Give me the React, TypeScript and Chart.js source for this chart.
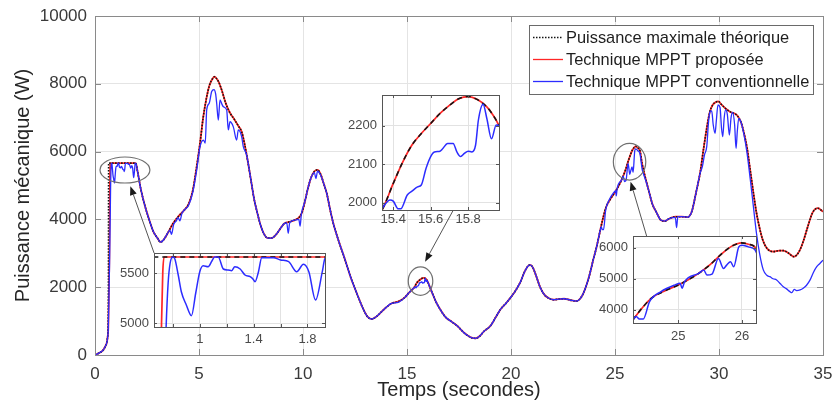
import React, { useEffect, useRef } from "react";
import { Chart, registerables } from "chart.js";

Chart.register(...registerables);

const FONT = "'Liberation Sans', Arial, Helvetica, sans-serif";

// ---------------- data (time in s, power in W) ----------------
const theoTime = [
  0, 0.2, 0.4, 0.5, 0.56, 0.6, 0.63, 0.645, 0.655, 1.0,
  1.5, 1.96, 2.05, 2.2, 2.4, 2.6, 2.8, 3.0, 3.15, 3.3,
  3.5, 3.75, 4.0, 4.3, 4.5, 4.7, 4.9, 5.05, 5.2, 5.35,
  5.5, 5.65, 5.75, 5.85, 5.95, 6.1, 6.3, 6.5, 6.7, 6.9,
  7.05, 7.2, 7.35, 7.5, 7.65, 7.8, 7.95, 8.1, 8.3, 8.5,
  8.7, 8.9, 9.1, 9.3, 9.6, 9.8, 9.95, 10.1, 10.25, 10.4,
  10.55, 10.7, 10.85, 11.0, 11.15, 11.3, 11.45, 11.7, 12.0, 12.3,
  12.6, 12.9, 13.1, 13.3, 13.5, 13.7, 13.95, 14.25, 14.6, 14.9,
  15.1, 15.25, 15.34, 15.4, 15.45, 15.5, 15.55, 15.6, 15.65, 15.7,
  15.75, 15.8, 15.85, 15.9, 15.93, 15.965, 16.05, 16.2, 16.4, 16.6,
  16.85, 17.15, 17.45, 17.7, 17.9, 18.1, 18.3, 18.5, 18.7, 19.0,
  19.3, 19.5, 19.75, 19.95, 20.2, 20.45, 20.65, 20.8, 20.92, 21.05,
  21.2, 21.4, 21.6, 21.8, 22.05, 22.3, 22.55, 22.85, 23.15, 23.35,
  23.5, 23.65, 23.8, 23.95, 24.12, 24.29, 24.45, 24.58, 24.8, 25.0,
  25.15, 25.32, 25.5, 25.63, 25.75, 25.84, 25.92, 25.99, 26.1, 26.2,
  26.3, 26.45, 26.6, 26.8, 27.0, 27.2, 27.4, 27.6, 27.9, 28.2,
  28.5, 28.7, 28.9, 29.1, 29.25, 29.4, 29.55, 29.7, 29.85, 29.97,
  30.1, 30.3, 30.55, 30.85, 31.05, 31.2, 31.35, 31.5, 31.65, 31.8,
  31.95, 32.1, 32.3, 32.6, 32.9, 33.1, 33.35, 33.6, 33.85, 34.05,
  34.25, 34.5, 34.75, 35,
];
const theoPower = [
  0, 60, 150, 260, 345, 500, 900, 2500, 5660, 5660,
  5660, 5660, 5400, 4900, 4400, 4000, 3650, 3450, 3330, 3400,
  3600, 3880, 4080, 4280, 4450, 4850, 5600, 6250, 7000, 7550,
  7950, 8150, 8210, 8150, 8050, 7800, 7400, 7130, 6950, 6750,
  6590, 6200, 5700, 5150, 4600, 4200, 3850, 3600, 3450, 3450,
  3550, 3720, 3880, 3920, 3980, 4050, 4200, 4550, 4950, 5250,
  5420, 5460, 5330, 5050, 4750, 4300, 3900, 3390, 2850, 2280,
  1800, 1350, 1130, 1060, 1120, 1230, 1380, 1520, 1580, 1700,
  1840, 1930, 1981, 2050, 2105, 2150, 2180, 2206, 2232, 2253,
  2270, 2276, 2268, 2249, 2230, 2200, 2080, 1850, 1560, 1340,
  1120, 980, 840, 680, 580, 510, 490, 560, 700, 850,
  1150, 1350, 1520, 1670, 1880, 2150, 2450, 2610, 2660, 2580,
  2350, 2000, 1780, 1680, 1630, 1650, 1660, 1620, 1590, 1680,
  1850, 2100, 2420, 2800, 3200, 3680, 4100, 4374, 4620, 4799,
  4960, 5172, 5450, 5706, 5920, 6048, 6120, 6153, 6110, 6024,
  5650, 5250, 4900, 4450, 4200, 3980, 3950, 4020, 4080, 4080,
  4070, 4250, 4800, 5400, 6050, 6650, 7150, 7380, 7460, 7480,
  7400, 7280, 7170, 7080, 6880, 6550, 6100, 5450, 4800, 4200,
  3750, 3400, 3150, 3050, 3080, 3080, 3000, 2900, 3050, 3350,
  3750, 4200, 4330, 4230,
];
// proposed technique: its own start-up, then on the theoretical maximum
const propRiseTime = [0, 0.2, 0.4, 0.5, 0.56, 0.6, 0.64, 0.67, 0.69, 0.705, 0.716, 0.725, 0.735];
const propRisePower = [0, 60, 150, 260, 345, 500, 835, 2000, 2900, 4000, 5000, 5500, 5660];

const convTime = [
  0, 0.2, 0.4, 0.5, 0.56, 0.6, 0.64, 0.67, 0.7, 0.73,
  0.75, 0.765, 0.78, 0.8, 0.815, 0.84, 0.863, 0.9, 0.938, 0.97,
  1.0, 1.025, 1.062, 1.09, 1.11, 1.137, 1.175, 1.21, 1.237, 1.26,
  1.3, 1.336, 1.374, 1.395, 1.41, 1.436, 1.46, 1.548, 1.6, 1.66,
  1.72, 1.77, 1.81, 1.86, 1.91, 1.93, 1.96, 2.05, 2.2, 2.4,
  2.6, 2.8, 3.0, 3.15, 3.3, 3.5, 3.6, 3.68, 3.78, 3.9,
  4.0, 4.08, 4.18, 4.3, 4.5, 4.7, 4.9, 5.05, 5.21, 5.3,
  5.37, 5.49, 5.61, 5.72, 5.8, 5.85, 5.93, 6.01, 6.1, 6.17,
  6.33, 6.41, 6.49, 6.65, 6.81, 6.89, 7.05, 7.13, 7.29, 7.5,
  7.65, 7.8, 7.95, 8.1, 8.3, 8.5, 8.7, 8.9, 9.1, 9.22,
  9.29, 9.36, 9.6, 9.8, 9.86, 9.92, 10.1, 10.25, 10.4, 10.55,
  10.62, 10.7, 10.85, 11.0, 11.15, 11.3, 11.45, 11.7, 12.0, 12.3,
  12.6, 12.9, 13.1, 13.3, 13.5, 13.7, 13.95, 14.25, 14.6, 14.9,
  15.1, 15.25, 15.34, 15.383, 15.4, 15.427, 15.44, 15.475, 15.5, 15.53,
  15.55, 15.575, 15.6, 15.62, 15.65, 15.665, 15.69, 15.72, 15.74, 15.76,
  15.78, 15.8, 15.82, 15.84, 15.855, 15.88, 15.9, 15.925, 15.95, 15.965,
  16.05, 16.2, 16.4, 16.6, 16.85, 17.15, 17.45, 17.7, 17.9, 18.1,
  18.3, 18.5, 18.7, 19.0, 19.3, 19.5, 19.75, 19.95, 20.2, 20.45,
  20.65, 20.8, 20.92, 21.05, 21.2, 21.4, 21.6, 21.8, 22.05, 22.3,
  22.55, 22.85, 23.15, 23.35, 23.5, 23.65, 23.8, 23.95, 24.12, 24.29,
  24.34, 24.39, 24.45, 24.55, 24.73, 24.95, 25.03, 25.06, 25.1, 25.32,
  25.4, 25.45, 25.53, 25.63, 25.71, 25.76, 25.82, 25.87, 25.95, 26.0,
  26.1, 26.2, 26.3, 26.36, 26.45, 26.6, 26.8, 27.0, 27.2, 27.4,
  27.6, 27.9, 27.96, 28.02, 28.2, 28.5, 28.7, 28.9, 29.09, 29.2,
  29.3, 29.41, 29.5, 29.57, 29.65, 29.72, 29.81, 29.87, 29.95, 30.05,
  30.12, 30.18, 30.25, 30.32, 30.4, 30.5, 30.58, 30.65, 30.75, 30.82,
  30.88, 30.95, 31.05, 31.2, 31.35, 31.5, 31.65, 31.8, 31.95, 32.13,
  32.3, 32.45, 32.6, 32.77, 32.95, 33.09, 33.25, 33.41, 33.5, 33.62,
  33.73, 33.9, 34.05, 34.2, 34.38, 34.55, 34.7, 34.85, 35,
];
const convPower = [
  0, 60, 150, 260, 345, 480, 800, 1700, 2700, 4000,
  4960, 5400, 5600, 5660, 5640, 5480, 5313, 5180, 5073, 5300,
  5513, 5573, 5563, 5620, 5660, 5660, 5540, 5530, 5523, 5563,
  5540, 5480, 5463, 5440, 5413, 5513, 5653, 5653, 5630, 5613,
  5513, 5587, 5513, 5230, 5513, 5647, 5660, 5400, 4900, 4400,
  4000, 3650, 3450, 3330, 3400, 3600, 3680, 3560, 3850, 3950,
  4050, 3960, 4180, 4280, 4420, 4800, 5500, 6145, 6340, 6250,
  7230, 7425, 7770, 7830, 7700, 7425, 6930, 7525, 7400, 7325,
  7230, 6640, 6880, 6730, 6340, 6640, 6440, 6145, 5900, 5150,
  4600, 4200, 3850, 3600, 3450, 3450, 3550, 3720, 3880, 3900,
  3590, 3900, 3980, 4000, 3800, 4150, 4550, 4950, 5250, 5380,
  5200, 5420, 5300, 5050, 4750, 4300, 3900, 3390, 2850, 2280,
  1800, 1350, 1130, 1060, 1120, 1230, 1380, 1520, 1560, 1700,
  1840, 1930, 1985, 2007, 2004, 1984, 1984, 2020, 2030, 2041,
  2046, 2089, 2120, 2132, 2134, 2141, 2154, 2154, 2132, 2120,
  2128, 2134, 2132, 2150, 2215, 2256, 2219, 2166, 2202, 2200,
  2080, 1850, 1560, 1340, 1120, 980, 840, 680, 580, 510,
  490, 560, 700, 850, 1150, 1350, 1520, 1670, 1880, 2150,
  2450, 2610, 2660, 2580, 2350, 2000, 1780, 1680, 1630, 1650,
  1660, 1620, 1590, 1680, 1850, 2100, 2420, 2800, 3200, 3680,
  3786, 3700, 3700, 4265, 4585, 4800, 4850, 4693, 4904, 5170,
  5278, 5118, 5150, 5652, 5332, 5438, 5545, 5385, 6025, 6080,
  6024, 5939, 5500, 5360, 5200, 4900, 4450, 4200, 3980, 3950,
  4020, 4060, 3760, 4080, 4080, 4070, 4250, 4800, 5360, 5560,
  5900, 6145, 6900, 7175, 7200, 6800, 6540, 6900, 7375, 7300,
  6700, 6440, 7000, 7230, 7100, 6490, 7000, 7160, 6800, 6095,
  6600, 6980, 6880, 6500, 5950, 5200, 4400, 3600, 3000, 2510,
  2350, 2310, 2250, 2215, 2100, 2015, 1950, 1870, 1840, 1935,
  1900, 1920, 1970, 2050, 2215, 2450, 2605, 2700, 2800,
];

const seriesNames = [
  "Puissance maximale théorique",
  "Technique MPPT proposée",
  "Technique MPPT conventionnelle",
];
const xTitle = "Temps (secondes)";
const yTitle = "Puissance mécanique (W)";
const xRange = [0, 35];
const yRange = [0, 10000];
const xStep = 5;
const yStep = 2000;

// zoom annotations (data units of the main axes)
const ellipseX = [1.44, 25.7, 15.65];
const ellipseY = [5457, 5700, 2180];
const ellipseRX = [1.2, 0.78, 0.59];
const ellipseRY = [383, 540, 419];
const arrowFromX = [2.84, 26.52, 17.23];
const arrowFromY = [3009, 3510, 4278];
const arrowToX = [1.7, 25.75, 15.87];
const arrowToY = [4980, 5112, 2752];

// insets: axis ranges and ticks
const insetXMin = [0.66, 15.34, 24.29];
const insetXMax = [1.93, 15.965, 26.22];
const insetYMin = [4960, 1981, 3575];
const insetYMax = [5700, 2280, 6374];
const insetXTicks = [[0.8, 1, 1.2, 1.4, 1.6, 1.8], [15.4, 15.6, 15.8], [25, 26]];
const insetXLabels = [[1, 1.4, 1.8], [15.4, 15.6, 15.8], [25, 26]];
const insetYTicks = [[5000, 5500], [2000, 2100, 2200], [4000, 5000, 6000]];

// insets: layout (page pixels of each plot box)
const insetLeft = [154, 382, 633];
const insetTop = [253, 95, 236];
const insetRight = [325, 499, 756];
const insetBottom = [327, 210, 323];
const insetLabelPad = [5, 2, 6];
const IN_L = 45, IN_T = 10, IN_R = 10, IN_B = 25;

const COL_THEO = "#141414";
const COL_PROP = "#ff2626";
const COL_CONV = "#2c2cff";

const zip = (t: number[], p: number[]) => t.map((x, i) => ({ x, y: p[i] }));
const theoData = zip(theoTime, theoPower);
const propData = [
  ...zip(propRiseTime, propRisePower),
  ...theoData.filter((d) => d.x > propRiseTime[propRiseTime.length - 1]),
];
const convData = zip(convTime, convPower);

const clearScalePadding = (s: any) => {
  s.paddingTop = 0;
  s.paddingBottom = 0;
  s.paddingLeft = 0;
  s.paddingRight = 0;
};

// ---------------- plugins ----------------
const whiteAreaPlugin = {
  id: "whiteArea",
  beforeDraw(chart: any) {
    const { ctx, chartArea: a } = chart;
    ctx.save();
    ctx.fillStyle = "#ffffff";
    ctx.fillRect(a.left, a.top, a.right - a.left, a.bottom - a.top);
    ctx.restore();
  },
};

const framePlugin = {
  id: "frame",
  afterDatasetsDraw(chart: any, _args: any, opts: any) {
    const { ctx, chartArea: a, scales } = chart;
    const len = opts.tickLength ?? 5;
    ctx.save();
    ctx.strokeStyle = opts.color || "#888";
    ctx.lineWidth = 1;
    ctx.beginPath();
    for (const t of scales.x.ticks) {
      const px = Math.round(scales.x.getPixelForValue(t.value)) + 0.5;
      if (px < a.left + 1 || px > a.right - 1) continue;
      ctx.moveTo(px, a.bottom);
      ctx.lineTo(px, a.bottom - len);
      ctx.moveTo(px, a.top);
      ctx.lineTo(px, a.top + len);
    }
    for (const t of scales.y.ticks) {
      const py = Math.round(scales.y.getPixelForValue(t.value)) + 0.5;
      if (py < a.top + 1 || py > a.bottom - 1) continue;
      ctx.moveTo(a.left, py);
      ctx.lineTo(a.left + len, py);
      ctx.moveTo(a.right, py);
      ctx.lineTo(a.right - len, py);
    }
    ctx.stroke();
    ctx.strokeRect(
      Math.round(a.left) + 0.5,
      Math.round(a.top) + 0.5,
      Math.round(a.right - a.left),
      Math.round(a.bottom - a.top)
    );
    ctx.restore();
  },
};

const annotationPlugin = {
  id: "zoomMarks",
  afterDatasetsDraw(chart: any) {
    const { ctx, scales } = chart;
    const x = scales.x, y = scales.y;
    ctx.save();
    ctx.strokeStyle = "#707070";
    ctx.lineWidth = 1.2;
    ellipseX.forEach((cx, i) => {
      const px = x.getPixelForValue(cx);
      const py = y.getPixelForValue(ellipseY[i]);
      const rx = Math.abs(x.getPixelForValue(cx + ellipseRX[i]) - px);
      const ry = Math.abs(y.getPixelForValue(ellipseY[i] + ellipseRY[i]) - py);
      ctx.beginPath();
      ctx.ellipse(px, py, rx, ry, 0, 0, Math.PI * 2);
      ctx.stroke();
    });
    arrowFromX.forEach((fx, i) => {
      const x1 = x.getPixelForValue(fx), y1 = y.getPixelForValue(arrowFromY[i]);
      const x2 = x.getPixelForValue(arrowToX[i]), y2 = y.getPixelForValue(arrowToY[i]);
      const ang = Math.atan2(y2 - y1, x2 - x1);
      const head = 9, half = 3.5;
      const bx = x2 - head * Math.cos(ang), by = y2 - head * Math.sin(ang);
      ctx.strokeStyle = "#555555";
      ctx.lineWidth = 1;
      ctx.beginPath();
      ctx.moveTo(x1, y1);
      ctx.lineTo(bx, by);
      ctx.stroke();
      ctx.fillStyle = "#1a1a1a";
      ctx.beginPath();
      ctx.moveTo(x2, y2);
      ctx.lineTo(bx + half * Math.sin(ang), by - half * Math.cos(ang));
      ctx.lineTo(bx - half * Math.sin(ang), by + half * Math.cos(ang));
      ctx.closePath();
      ctx.fill();
    });
    ctx.restore();
  },
};

const legendStyles = [
  { color: COL_THEO, dash: [1.5, 1.5], width: 1.6 },
  { color: COL_PROP, dash: [], width: 1.3 },
  { color: COL_CONV, dash: [], width: 1.3 },
];

const legendPlugin = {
  id: "boxLegend",
  afterDraw(chart: any) {
    const { ctx, chartArea: a } = chart;
    ctx.save();
    ctx.font = `16.4px ${FONT}`;
    const textW = Math.max(...seriesNames.map((n) => ctx.measureText(n).width));
    const w = 4 + 30 + 3 + textW + 4;
    const h = 69;
    const right = Math.round(a.right - 10);
    const left = Math.round(right - w);
    const top = Math.round(a.top + 9);
    ctx.fillStyle = "#ffffff";
    ctx.fillRect(left, top, right - left, h);
    ctx.strokeStyle = "#6a6a6a";
    ctx.lineWidth = 1;
    ctx.strokeRect(left + 0.5, top + 0.5, right - left, h);
    seriesNames.forEach((name, i) => {
      const st = legendStyles[i];
      const ly = top + 12.5 + i * 22;
      ctx.strokeStyle = st.color;
      ctx.lineWidth = st.width;
      ctx.setLineDash(st.dash);
      ctx.beginPath();
      ctx.moveTo(left + 4, ly);
      ctx.lineTo(left + 34, ly);
      ctx.stroke();
      ctx.setLineDash([]);
      ctx.fillStyle = "#1e1e1e";
      ctx.textBaseline = "middle";
      ctx.textAlign = "left";
      ctx.fillText(name, left + 37, top + 13.5 + i * 22);
    });
    ctx.restore();
  },
};

// ---------------- charts ----------------
function makeMain(canvas: HTMLCanvasElement) {
  return new Chart(canvas, {
    type: "line",
    data: {
      datasets: [
        { label: seriesNames[2], data: convData, borderColor: COL_CONV, borderWidth: 1.3, pointRadius: 0, order: 0, cubicInterpolationMode: "monotone" },
        { label: seriesNames[0], data: theoData, borderColor: COL_THEO, borderWidth: 1.6, borderDash: [1.5, 1.5], pointRadius: 0, order: 1, cubicInterpolationMode: "monotone" },
        { label: seriesNames[1], data: propData, borderColor: COL_PROP, borderWidth: 1.8, pointRadius: 0, order: 2, cubicInterpolationMode: "monotone" },
      ] as any,
    },
    options: {
      animation: false,
      responsive: false,
      devicePixelRatio: 1,
      events: [],
      layout: { padding: { left: 0, top: 16, right: 10, bottom: 0 } },
      plugins: {
        legend: { display: false },
        tooltip: { enabled: false },
        frame: { color: "#8a8a8a", tickLength: 6 },
      } as any,
      scales: {
        x: {
          type: "linear",
          min: xRange[0],
          max: xRange[1],
          ticks: { stepSize: xStep, font: { family: FONT, size: 17 }, color: "#3a3a3a", padding: 9, maxRotation: 0, autoSkip: false, callback: (v: any) => String(v) },
          grid: { color: "#e4e4e4", drawTicks: false },
          border: { display: false },
          title: { display: true, text: xTitle, font: { family: FONT, size: 20 }, color: "#262626", padding: { top: 0, bottom: 3 } },
          afterFit: (s: any) => { s.height = 50; clearScalePadding(s); },
        },
        y: {
          type: "linear",
          min: yRange[0],
          max: yRange[1],
          ticks: { stepSize: yStep, font: { family: FONT, size: 17 }, color: "#3a3a3a", padding: 8, callback: (v: any) => String(v) },
          grid: { color: "#e4e4e4", drawTicks: false },
          border: { display: false },
          title: { display: true, text: yTitle, font: { family: FONT, size: 20 }, color: "#262626", padding: { top: 11, bottom: 0 } },
          afterFit: (s: any) => { s.width = 95; clearScalePadding(s); },
        },
      } as any,
    },
    plugins: [whiteAreaPlugin, framePlugin, annotationPlugin, legendPlugin],
  });
}

function makeInset(canvas: HTMLCanvasElement, k: number) {
  const labels = insetXLabels[k];
  return new Chart(canvas, {
    type: "line",
    data: {
      datasets: [
        { data: convData, borderColor: COL_CONV, borderWidth: 1.5, pointRadius: 0, order: 0, clip: 0, cubicInterpolationMode: "monotone" },
        { data: theoData, borderColor: COL_THEO, borderWidth: 1.6, borderDash: [5, 4], pointRadius: 0, order: 1, clip: 0, cubicInterpolationMode: "monotone" },
        { data: propData, borderColor: COL_PROP, borderWidth: 1.7, pointRadius: 0, order: 2, clip: 0, cubicInterpolationMode: "monotone" },
      ] as any,
    },
    options: {
      animation: false,
      responsive: false,
      devicePixelRatio: 1,
      events: [],
      layout: { padding: { left: 0, top: IN_T, right: IN_R, bottom: 0 } },
      plugins: {
        legend: { display: false },
        tooltip: { enabled: false },
        frame: { color: "#555555", tickLength: 3 },
      } as any,
      scales: {
        x: {
          type: "linear",
          min: insetXMin[k],
          max: insetXMax[k],
          afterBuildTicks: (s: any) => { s.ticks = insetXTicks[k].map((v) => ({ value: v })); },
          ticks: {
            font: { family: FONT, size: 13 },
            color: "#4a4a4a",
            padding: insetLabelPad[k],
            maxRotation: 0,
            autoSkip: false,
            callback: (v: any) => {
              const hit = labels.find((l) => Math.abs(l - Number(v)) < 1e-6);
              return hit === undefined ? "" : String(hit);
            },
          },
          grid: { color: "#e2e2e2", drawTicks: false },
          border: { display: false },
          afterFit: (s: any) => { s.height = IN_B; clearScalePadding(s); },
        },
        y: {
          type: "linear",
          min: insetYMin[k],
          max: insetYMax[k],
          afterBuildTicks: (s: any) => { s.ticks = insetYTicks[k].map((v) => ({ value: v })); },
          ticks: { font: { family: FONT, size: 13 }, color: "#4a4a4a", padding: 5, autoSkip: false, callback: (v: any) => String(v) },
          grid: { color: "#e2e2e2", drawTicks: false },
          border: { display: false },
          afterFit: (s: any) => { s.width = IN_L; clearScalePadding(s); },
        },
      } as any,
    },
    plugins: [whiteAreaPlugin, framePlugin],
  });
}

export default function App() {
  const mainRef = useRef<HTMLCanvasElement | null>(null);
  const insetRefs = useRef<(HTMLCanvasElement | null)[]>([]);

  useEffect(() => {
    const charts: Chart[] = [];
    if (mainRef.current) charts.push(makeMain(mainRef.current));
    insetRefs.current.forEach((c, k) => {
      if (c) charts.push(makeInset(c, k));
    });
    return () => charts.forEach((c) => c.destroy());
  }, []);

  return (
    <div style={{ position: "absolute", left: 0, top: 0, width: 833, height: 405, background: "#ffffff", overflow: "hidden" }}>
      <canvas ref={mainRef} width={833} height={405} style={{ position: "absolute", left: 0, top: 0, width: 833, height: 405 }} />
      {insetLeft.map((l, k) => {
        const w = insetRight[k] - l + IN_L + IN_R;
        const h = insetBottom[k] - insetTop[k] + IN_T + IN_B;
        return (
          <canvas
            key={k}
            ref={(el) => { insetRefs.current[k] = el; }}
            width={w}
            height={h}
            style={{ position: "absolute", left: l - IN_L, top: insetTop[k] - IN_T, width: w, height: h }}
          />
        );
      })}
    </div>
  );
}
